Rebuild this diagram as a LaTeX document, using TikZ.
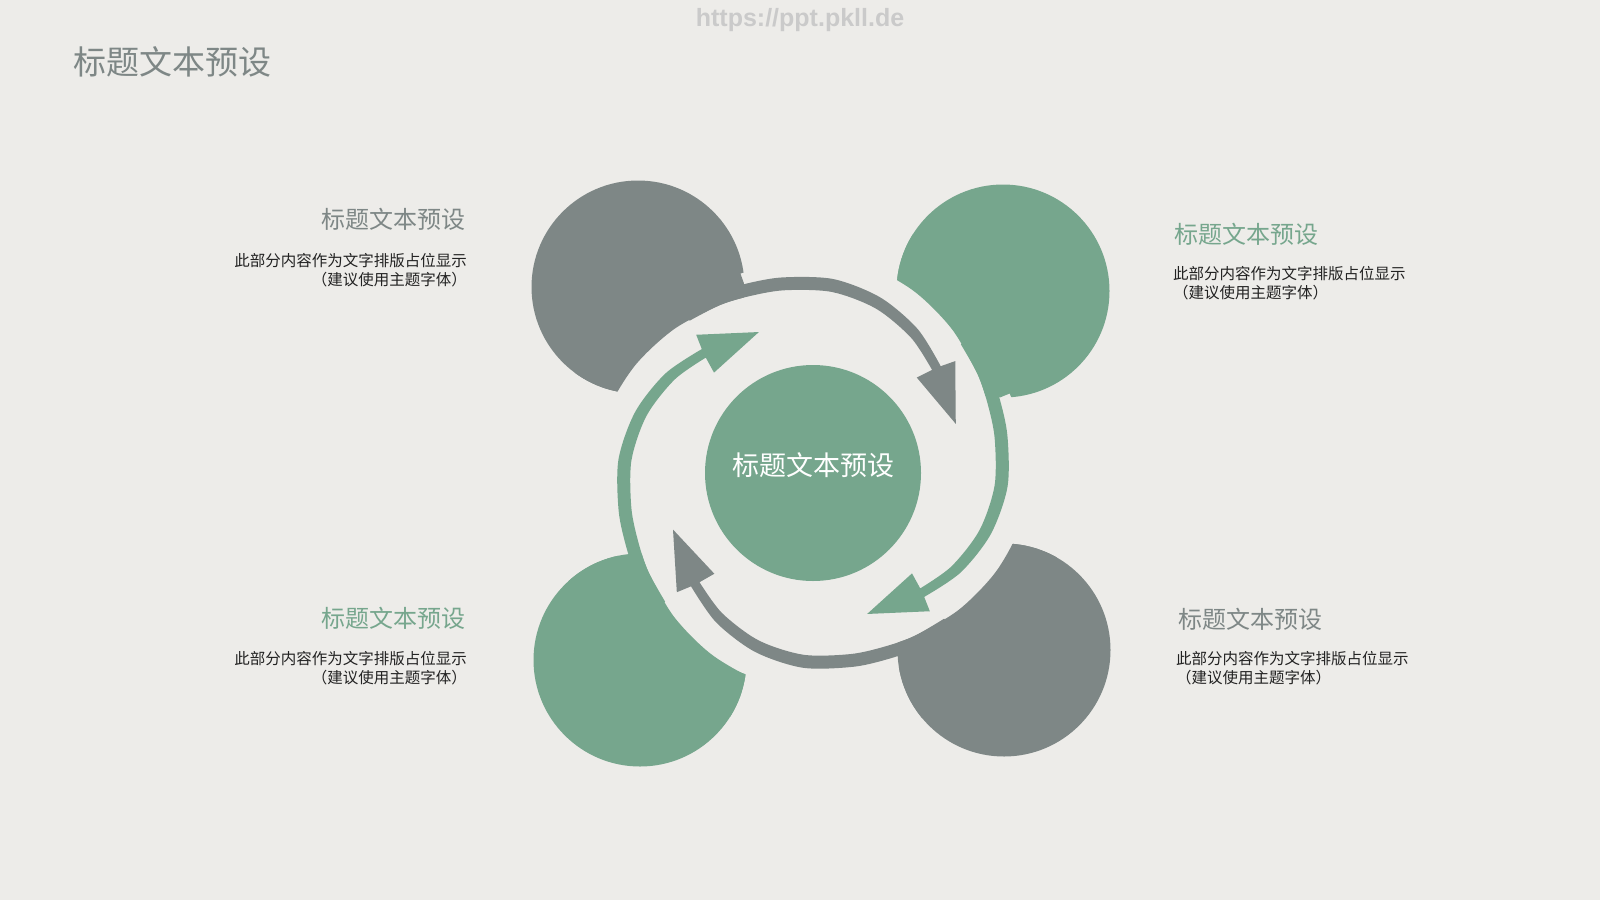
\documentclass[tikz,border=0pt]{standalone}
\usepackage{fontspec}
\setmainfont{Noto Sans CJK SC}
\newfontfamily\urlfont{Liberation Sans}
\definecolor{linen}{HTML}{EDECE9}
\definecolor{slate}{HTML}{7E8786}
\definecolor{sage}{HTML}{76A68D}
\definecolor{ink}{HTML}{222222}
\definecolor{wmark}{HTML}{CACACA}
\tikzset{disc/.style = {circle, minimum size=213pt, inner sep=0pt},
    hub/.style = {circle, fill=sage, minimum size=216pt, inner sep=0pt},
    hd/.style = {inner sep=0pt, font=\fontsize{24}{24}\selectfont},
    bd/.style = {inner sep=0pt, text=ink, font=\fontsize{15.5}{19}\selectfont}}

\begin{document}
\begin{tikzpicture}[x=1pt, y=-1pt]
        \fill[linen] (0,0) rectangle (1600,900);
        \useasboundingbox (0,0) rectangle (1600,900);

        \node[disc, fill=slate] (tl) at (638,287) {};
        \node[disc, fill=sage]  (tr) at (1003,291) {};
        \node[disc, fill=sage]  (bl) at (640,660) {};
        \node[disc, fill=slate] (br) at (1004,650) {};

        \coordinate (c) at (813,473);
        \fill[linen] (c) circle[radius=212];

        % curved arrows: tip angle / colour / circle it grows out of
        \begin{scope}[shift={(c)}]
        \foreach \t/\col/\n in {-19/slate/tl, 69/sage/tr, 158/slate/br, 249/sage/bl} {
            \begin{scope}
                \clip (\n.center) circle[radius=106.5];
                \fill[\col] plot[smooth] coordinates {({\t-91}:188) ({\t-100}:192) ({\t-115}:200)
                        ({\t-130}:208) ({\t-145}:215) ({\t-160}:220)}
                    -- ({\t-160}:270) -- ({\t-125}:270) -- ({\t-91}:270) -- cycle;
            \end{scope}
            \fill[\col] plot[smooth] coordinates {({\t-110}:212) ({\t-100}:205) ({\t-91}:201)
                    ({\t-80}:198) ({\t-65}:195) ({\t-50}:188) ({\t-35}:178) ({\t-20.9}:166.5)}
                -- ({\t-19.2}:181) -- (\t:151) -- ({\t-23.6}:141) -- ({\t-21.9}:157.5)
                -- plot[smooth] coordinates {({\t-21.9}:157.5) ({\t-35}:167) ({\t-50}:176)
                    ({\t-65}:182) ({\t-80}:185) ({\t-91}:188) ({\t-100}:192) ({\t-110}:196)} -- cycle;
        }
        \end{scope}

        \node[hub] (hub) at (c) {};
        \node[inner sep=0pt, text=white, font=\fontsize{27}{27}\selectfont] (hubtext)
            at ([yshift=8pt]hub.center) {标题文本预设};

        \node[inner sep=0pt, anchor=west, text=slate, font=\fontsize{33}{33}\selectfont] (title)
            at (73,62) {标题文本预设};
        \node[inner sep=0pt, text=wmark, font=\urlfont\bfseries\fontsize{25}{25}\selectfont] (url)
            at (800,20) {https://ppt.pkll.de};

        \node[hd, anchor=east, text=slate] (h1) at (466,219) {标题文本预设};
        \node[bd, anchor=north east, align=right] (b1) at (467,253)
            {此部分内容作为文字排版占位显示\\（建议使用主题字体）};
        \node[hd, anchor=west, text=sage] (h2) at (1174,234) {标题文本预设};
        \node[bd, anchor=north west, align=left] (b2) at (1173,266)
            {此部分内容作为文字排版占位显示\\（建议使用主题字体）};
        \node[hd, anchor=east, text=sage] (h3) at (466,618) {标题文本预设};
        \node[bd, anchor=north east, align=right] (b3) at (467,651)
            {此部分内容作为文字排版占位显示\\（建议使用主题字体）};
        \node[hd, anchor=west, text=slate] (h4) at (1178,619) {标题文本预设};
        \node[bd, anchor=north west, align=left] (b4) at (1176,651)
            {此部分内容作为文字排版占位显示\\（建议使用主题字体）};
    \end{tikzpicture}
\end{document}
